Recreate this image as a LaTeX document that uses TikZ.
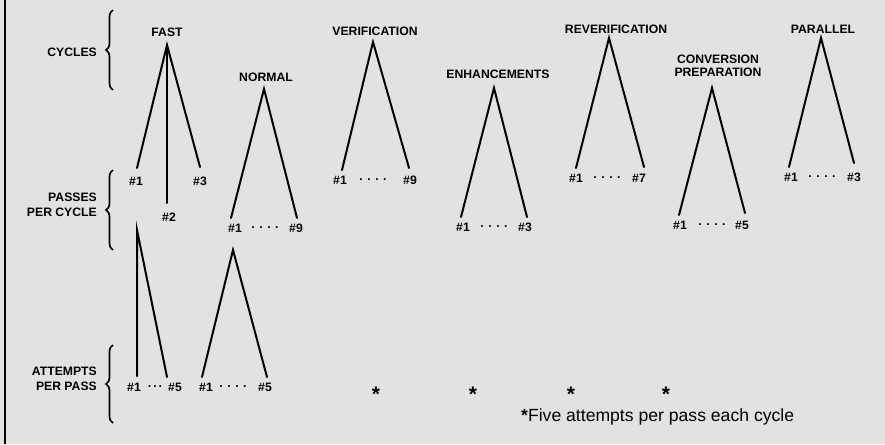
\documentclass[tikz,border=0pt]{standalone}
\usepackage{fontspec}
\newfontfamily\hv{Liberation Sans}
\usetikzlibrary{decorations.pathreplacing}
\definecolor{bgc}{RGB}{226,226,226}
\tikzset{
  lbl/.style={font=\hv\bfseries\fontsize{12.2}{13}\selectfont, inner sep=0pt, align=center},
  side/.style={font=\hv\bfseries\fontsize{12.2}{14.5}\selectfont, inner sep=0pt, align=right, anchor=east},
  leg/.style={line width=2pt, line cap=round},
  curly/.style={decorate, decoration={brace, amplitude=7pt}, line width=1.7pt},
  star/.style={font=\hv\bfseries\fontsize{21}{21}\selectfont, inner sep=0pt},
  note/.style={font=\hv\fontsize{17.6}{18}\selectfont, inner sep=0pt, anchor=west}
}
\begin{document}
\begin{tikzpicture}[x=1pt,y=-1pt]
\useasboundingbox (0,0) rectangle (885,444);
\fill[bgc] (0,0) rectangle (885,444);
\draw[line width=2.4pt] (5,0) -- (5,444);

% side labels and braces
\node[side] (cyc) at (97,52) {CYCLES};
\node[side] (ppc) at (97,205) {PASSES\\PER CYCLE};
\node[side] (app) at (97,379) {ATTEMPTS\\PER PASS};
\coordinate (b1a) at (113,90); \coordinate (b1b) at (113,10);
\coordinate (b2a) at (113,250); \coordinate (b2b) at (113,170);
\coordinate (b3a) at (113,423); \coordinate (b3b) at (113,345);
\draw[curly] (b1a) -- (b1b);
\draw[curly] (b2a) -- (b2b);
\draw[curly] (b3a) -- (b3b);

% FAST
\node[lbl] (fast) at (167,32) {FAST};
\coordinate (fA) at (167,45);
\coordinate (f1) at (137,168); \coordinate (f2) at (167,203); \coordinate (f3) at (200,167);
\draw[leg] (f1) -- (fA) -- (f3); \draw[leg] (fA) -- (f2);
\node[lbl] (fl1) at (136,181) {\#1};
\node[lbl] (fl2) at (169,217) {\#2};
\node[lbl] (fl3) at (200,181) {\#3};

% NORMAL
\node[lbl] (normal) at (266,77) {NORMAL};
\coordinate (nA) at (264,89);
\coordinate (n1) at (231,218); \coordinate (n2) at (297,218);
\draw[leg] (n1) -- (nA) -- (n2);
\node[lbl] (nl1) at (235,228) {\#1};
\node[lbl] (nld) at (265,228) {. . . .};
\node[lbl] (nl2) at (296,228) {\#9};

% VERIFICATION
\node[lbl] (verif) at (375,31) {VERIFICATION};
\coordinate (vA) at (373,42);
\coordinate (v1) at (342,170); \coordinate (v2) at (409,168);
\draw[leg] (v1) -- (vA) -- (v2);
\node[lbl] (vl1) at (340,180) {\#1};
\node[lbl] (vld) at (373,180) {. . . .};
\node[lbl] (vl2) at (410,180) {\#9};

% ENHANCEMENTS
\node[lbl] (enh) at (498,74) {ENHANCEMENTS};
\coordinate (eA) at (494,88);
\coordinate (e1) at (461,217); \coordinate (e2) at (527,217);
\draw[leg] (e1) -- (eA) -- (e2);
\node[lbl] (el1) at (463,227) {\#1};
\node[lbl] (eld) at (494,227) {. . . .};
\node[lbl] (el2) at (525,227) {\#3};

% REVERIFICATION
\node[lbl] (rever) at (616,29) {REVERIFICATION};
\coordinate (rA) at (609,38);
\coordinate (r1) at (576,168); \coordinate (r2) at (644,167);
\draw[leg] (r1) -- (rA) -- (r2);
\node[lbl] (rl1) at (576,178) {\#1};
\node[lbl] (rld) at (607,178) {. . . .};
\node[lbl] (rl2) at (639,178) {\#7};

% CONVERSION PREPARATION
\node[lbl, font=\hv\bfseries\fontsize{12.2}{12.5}\selectfont] (conv) at (718,66) {CONVERSION\\PREPARATION};
\coordinate (cA) at (712,88);
\coordinate (c1) at (679,215); \coordinate (c2) at (745,213);
\draw[leg] (c1) -- (cA) -- (c2);
\node[lbl] (cl1) at (680,225) {\#1};
\node[lbl] (cld) at (712,225) {. . . .};
\node[lbl] (cl2) at (742,225) {\#5};

% PARALLEL
\node[lbl] (par) at (823,29) {PARALLEL};
\coordinate (pA) at (821,38);
\coordinate (p1) at (789,167); \coordinate (p2) at (854,163);
\draw[leg] (p1) -- (pA) -- (p2);
\node[lbl] (pl1) at (791,177) {\#1};
\node[lbl] (pld) at (822,177) {. . . .};
\node[lbl] (pl2) at (854,177) {\#3};

% attempts under FAST
\coordinate (aA) at (137,230);
\coordinate (a1) at (137,376); \coordinate (a2) at (167,377);
\draw[leg] (a1) -- (aA) -- (a2);
\node[lbl] (al1) at (134,387) {\#1};
\node[lbl] (ald) at (155,387) {.\,.\,.};
\node[lbl] (al2) at (175,387) {\#5};

% attempts under NORMAL
\coordinate (bA) at (233,250);
\coordinate (bb1) at (202,377); \coordinate (bb2) at (267,377);
\draw[leg] (bb1) -- (bA) -- (bb2);
\node[lbl] (bl1) at (206,387) {\#1};
\node[lbl] (bld) at (233,387) {. . . .};
\node[lbl] (bl2) at (265,387) {\#5};

% asterisks
\node[star] (s1) at (376,394) {*};
\node[star] (s2) at (473,394) {*};
\node[star] (s3) at (571,394) {*};
\node[star] (s4) at (666,394) {*};
\node[note] (nt) at (521,417) {{\bfseries *}Five attempts per pass each cycle};
\end{tikzpicture}
\end{document}
